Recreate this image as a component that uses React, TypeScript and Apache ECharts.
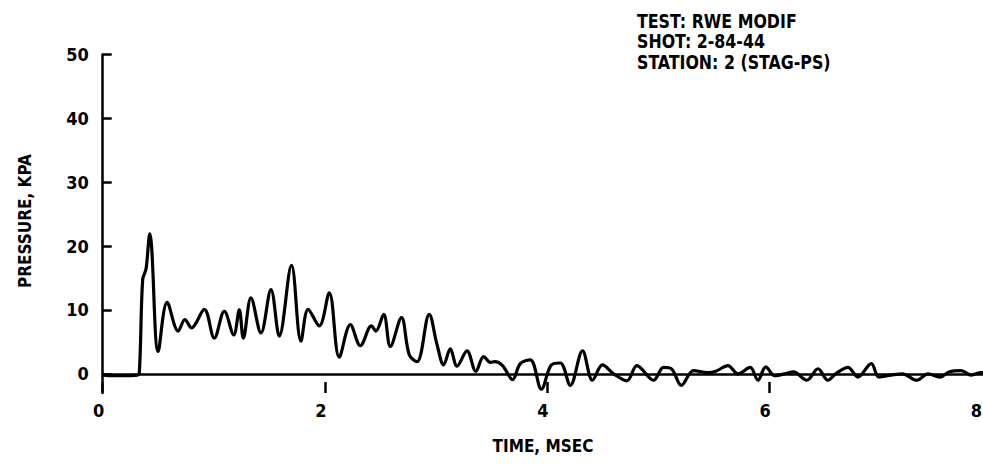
import React, { useEffect, useRef } from "react";
import * as echarts from "echarts";

const timeMs = [
  0.0, 0.1, 0.2, 0.31, 0.33, 0.36, 0.39, 0.425, 0.44, 0.5, 0.58, 0.68, 0.74, 0.8, 0.915,
  1.005, 1.095, 1.18, 1.23, 1.266, 1.335, 1.425, 1.515, 1.59, 1.7, 1.785, 1.85, 1.95,
  2.04, 2.13, 2.23, 2.32, 2.42, 2.46, 2.53, 2.59, 2.69, 2.76, 2.83, 2.94, 3.01, 3.07,
  3.13, 3.19, 3.28, 3.36, 3.43, 3.49, 3.53, 3.6, 3.69, 3.76, 3.85, 3.95, 4.04, 4.12,
  4.21, 4.32, 4.41, 4.5, 4.6, 4.72, 4.81, 4.96, 5.05, 5.12, 5.21, 5.32, 5.45, 5.52,
  5.63, 5.72, 5.83, 5.9, 5.97, 6.05, 6.14, 6.22, 6.34, 6.44, 6.53, 6.6, 6.71, 6.8,
  6.92, 6.99, 7.1, 7.2, 7.33, 7.43, 7.54, 7.62, 7.73, 7.82, 7.91, 8.0,
];
const pressureKpa = [
  -0.2, -0.3, -0.3, -0.2, 0.2, 14.8, 16.4, 21.9, 20.0, 3.5, 11.2, 6.7, 8.5, 7.2, 10.1,
  5.6, 9.8, 6.1, 10.0, 5.6, 11.9, 6.4, 13.2, 5.9, 17.0, 5.1, 10.1, 7.5,
  12.7, 2.6, 7.7, 4.4, 7.5, 6.7, 9.3, 4.3, 8.8, 3.0, 1.9, 9.3, 4.6, 1.4,
  3.9, 1.2, 3.6, 0.4, 2.7, 1.8, 1.9, 1.3, -0.9, 1.6, 2.2, -2.4, 1.4, 1.7,
  -1.8, 3.6, -1.0, 1.4, 0.0, -1.1, 1.3, -1.0, 1.0, 0.8, -1.8, 0.5, 0.2, 0.4,
  1.3, 0.0, 1.0, -1.0, 1.1, -0.3, 0.0, 0.3, -1.0, 0.8, -1.0, 0.0, 1.0, -0.5,
  1.6, -0.5, -0.2, 0.0, -1.0, 0.0, -0.5, 0.3, 0.5, -0.2, 0.2, -0.2,
];
const yTickValues = [0, 10, 20, 30, 40, 50];
const xTickValues = [0, 2, 4, 6, 8];
const infoLines = ["TEST: RWE MODIF", "SHOT: 2-84-44", "STATION: 2 (STAG-PS)"];
const xTitle = "TIME, MSEC";
const yTitle = "PRESSURE, KPA";

const FONT = "'DejaVu Sans Condensed', 'DejaVu Sans', sans-serif";

export default function App() {
  const ref = useRef<HTMLDivElement>(null);
  useEffect(() => {
    if (!ref.current) return;
    const chart = echarts.init(ref.current, null, { renderer: "svg" });
    const data = timeMs.map((t, i) => [t, pressureKpa[i]]);
    const lastX = xTickValues[xTickValues.length - 1];
    chart.setOption({
      animation: false,
      backgroundColor: "#ffffff",
      grid: {
        left: 102.7,
        top: 54.5,
        width: 888.5,
        bottom: 78,
        containLabel: false,
        outerBoundsMode: "none",
      },
      xAxis: {
        type: "value",
        min: 0,
        max: 8,
        axisLine: { show: true, onZero: false, lineStyle: { color: "rgba(0,0,0,0)", width: 0 } },
        axisTick: {
          show: true,
          inside: true,
          length: 11,
          customValues: xTickValues,
          lineStyle: { color: "#000", width: 2.5 },
        },
        axisLabel: {
          customValues: xTickValues.slice(0, -1),
          margin: 8,
          color: "#000",
          fontFamily: FONT,
          fontWeight: "bold",
          fontSize: 18,
          padding: [0, 8, 0, 0],
          showMinLabel: true,
          hideOverlap: false,
        },
        splitLine: { show: false },
      },
      yAxis: {
        type: "value",
        min: -3,
        max: 50,
        axisLine: { show: true, onZero: false, lineStyle: { color: "#000", width: 2.5 } },
        axisTick: {
          show: true,
          inside: true,
          length: 9,
          customValues: yTickValues,
          lineStyle: { color: "#000", width: 2.5 },
        },
        axisLabel: {
          customValues: yTickValues,
          margin: 14,
          color: "#000",
          fontFamily: FONT,
          fontWeight: "bold",
          fontSize: 18,
        },
        splitLine: { show: false },
      },
      series: [
        {
          type: "line",
          data,
          showSymbol: false,
          smooth: 0.35,
          lineStyle: { color: "#000", width: 3.2 },
          markLine: {
            silent: true,
            symbol: "none",
            label: { show: false },
            lineStyle: { color: "#000", width: 2.5, type: "solid" },
            data: [{ yAxis: 0 }],
          },
        },
      ],
      graphic: [
        ...infoLines.map((s, i) => ({
          type: "text",
          x: 637,
          y: 11 + i * 20.3,
          scaleX: 0.88,
          style: {
            text: s,
            fill: "#000",
            font: `bold 20px ${FONT}`,
            verticalAlign: "top",
          },
        })),
        {
          type: "text",
          x: 982,
          y: 410,
          style: {
            text: String(lastX),
            fill: "#000",
            font: `bold 18px ${FONT}`,
            align: "right",
            verticalAlign: "middle",
          },
        },
        {
          type: "text",
          x: 543,
          y: 446,
          style: {
            text: xTitle,
            fill: "#000",
            font: `bold 17px ${FONT}`,
            align: "center",
            verticalAlign: "middle",
          },
        },
        {
          type: "text",
          x: 25,
          y: 221,
          rotation: Math.PI / 2,
          style: {
            text: yTitle,
            fill: "#000",
            font: `bold 17px ${FONT}`,
            align: "center",
            verticalAlign: "middle",
          },
        },
      ],
    });
    return () => chart.dispose();
  }, []);
  return <div ref={ref} style={{ width: 983, height: 471, position: "absolute", left: 0, top: 0 }} />;
}
